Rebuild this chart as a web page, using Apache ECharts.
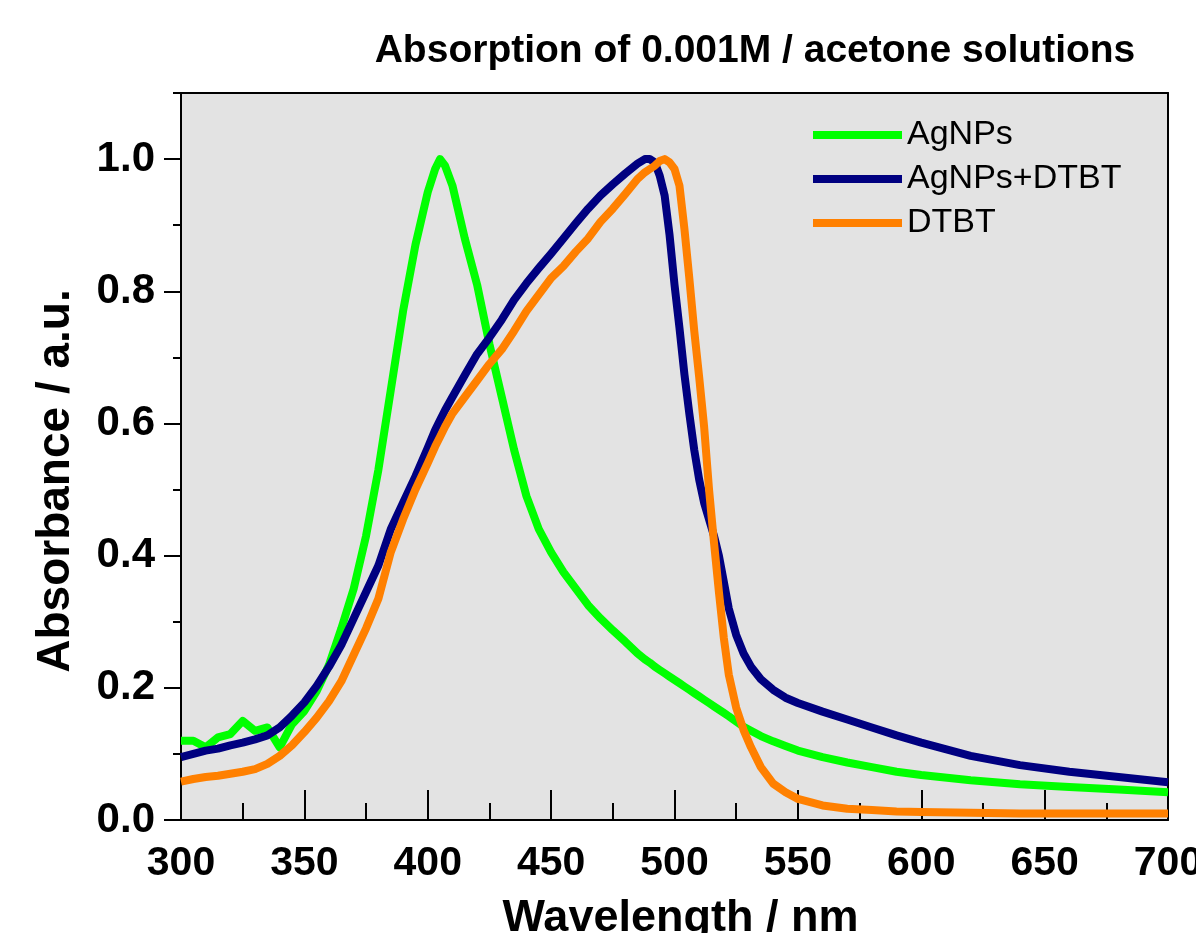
<!DOCTYPE html>
<html>
<head>
<meta charset="utf-8">
<script src="https://cdn.jsdelivr.net/npm/echarts@6/dist/echarts.min.js"></script>
<style>
html,body{margin:0;padding:0;background:#fff;}
#c{width:1196px;height:933px;}
</style>
</head>
<body>
<div id="c"></div>
<script>
// ---- data ----
var wavelengths = [300,305,310,315,320,325,330,335,340,345,350,355,360,365,370,375,380,385,390,395,400,403,405,407,410,415,420,425,430,435,440,445,450,455,460,465,470,475,480,485,488,490,492,494,496,498,500,502,504,506,508,510,512,514,516,518,520,522,525,528,531,535,540,545,550,560,570,580,590,600,620,640,660,680,700];

var agnps = [0.12,0.12,0.11,0.125,0.13,0.15,0.135,0.14,0.11,0.145,0.165,0.195,0.235,0.29,0.35,0.43,0.53,0.65,0.77,0.87,0.95,0.985,1.0,0.99,0.96,0.88,0.81,0.72,0.64,0.56,0.49,0.44,0.405,0.375,0.35,0.325,0.305,0.287,0.27,0.252,0.243,0.238,0.232,0.227,0.222,0.217,0.212,0.207,0.202,0.197,0.192,0.187,0.182,0.177,0.172,0.167,0.162,0.157,0.149,0.141,0.135,0.127,0.119,0.112,0.105,0.095,0.087,0.08,0.073,0.068,0.06,0.054,0.05,0.046,0.042];

var agnpsDtbt = [0.095,0.1,0.105,0.108,0.113,0.117,0.122,0.128,0.14,0.158,0.178,0.203,0.232,0.265,0.305,0.345,0.385,0.44,0.48,0.52,0.563,0.59,0.605,0.62,0.64,0.673,0.705,0.73,0.757,0.787,0.812,0.835,0.857,0.88,0.903,0.925,0.945,0.962,0.978,0.993,1.0,1.0,0.995,0.975,0.945,0.885,0.81,0.745,0.675,0.615,0.56,0.515,0.48,0.455,0.43,0.40,0.36,0.32,0.28,0.252,0.232,0.213,0.197,0.185,0.177,0.164,0.152,0.14,0.128,0.117,0.097,0.083,0.073,0.065,0.057];

var dtbt = [0.058,0.062,0.065,0.067,0.07,0.073,0.077,0.085,0.097,0.113,0.133,0.155,0.18,0.21,0.25,0.29,0.335,0.405,0.455,0.5,0.54,0.565,0.58,0.595,0.615,0.64,0.665,0.69,0.712,0.74,0.77,0.795,0.82,0.838,0.86,0.88,0.905,0.925,0.947,0.97,0.98,0.985,0.99,0.997,1.0,0.995,0.985,0.96,0.895,0.82,0.74,0.67,0.595,0.5,0.42,0.345,0.275,0.22,0.17,0.136,0.11,0.08,0.055,0.042,0.032,0.022,0.017,0.015,0.013,0.012,0.011,0.01,0.01,0.01,0.01];

var seriesNames = ['AgNPs','AgNPs+DTBT','DTBT'];
var xMajorTicks = [300,350,400,450,500,550,600,650,700];
var xMinorTicks = [325,375,425,475,525,575,625,675];
var yMajorTicks = [0,0.2,0.4,0.6,0.8,1.0];
var yMinorTicks = [0.1,0.3,0.5,0.7,0.9,1.1];

function pairs(xs, ys){ var out=[]; for(var i=0;i<xs.length;i++){ out.push([xs[i], ys[i]]); } return out; }

var FONT = '"Liberation Sans", Arial, sans-serif';
var chart = echarts.init(document.getElementById('c'), null, {renderer:'canvas'});
var X_MIN=300, X_MAX=700, Y_MIN=0, Y_MAX=1.1;
var lineStyleAxis = {color:'#000', width:2};

chart.setOption({
  animation:false,
  backgroundColor:'#fff',
  title:{
    text:'Absorption of 0.001M / acetone solutions',
    left:750, top:27, textAlign:'center',
    textStyle:{fontFamily:FONT, fontWeight:'bold', fontSize:39, color:'#000'}
  },
  legend:{
    orient:'vertical', left:813, top:118, padding:0,
    itemWidth:89, itemHeight:8, itemGap:10, icon:'rect',
    data:seriesNames,
    textStyle:{fontFamily:FONT, fontSize:34, color:'#000'}
  },
  grid:{left:181, right:28, top:93, bottom:113, show:true, backgroundColor:'#e3e3e3', borderWidth:0,
        containLabel:false, outerBoundsMode:'none'},
  xAxis:[
    {type:'value', min:X_MIN, max:X_MAX, interval:50, position:'bottom',
     axisLine:{show:true, onZero:false, lineStyle:lineStyleAxis},
     axisTick:{show:false}, splitLine:{show:false},
     axisLabel:{fontFamily:FONT, fontWeight:'bold', fontSize:41, color:'#000', margin:23, customValues:xMajorTicks},
     name:'Wavelength / nm', nameLocation:'middle', nameGap:76,
     nameTextStyle:{fontFamily:FONT, fontWeight:'bold', fontSize:45, color:'#000', padding:[0,0,0,12]}},
    {type:'value', min:X_MIN, max:X_MAX, position:'bottom', offset:15,
     axisLine:{show:false}, axisLabel:{show:false}, splitLine:{show:false},
     axisTick:{show:true, inside:true, length:30, lineStyle:lineStyleAxis, customValues:xMajorTicks}},
    {type:'value', min:X_MIN, max:X_MAX, position:'bottom', offset:10,
     axisLine:{show:false}, axisLabel:{show:false}, splitLine:{show:false},
     axisTick:{show:true, inside:true, length:17, lineStyle:lineStyleAxis, customValues:xMinorTicks}},
    {type:'value', min:X_MIN, max:X_MAX, position:'top',
     axisLine:{show:true, onZero:false, lineStyle:lineStyleAxis},
     axisTick:{show:false}, axisLabel:{show:false}, splitLine:{show:false}}
  ],
  yAxis:[
    {type:'value', min:Y_MIN, max:Y_MAX, position:'left',
     axisLine:{show:true, onZero:false, lineStyle:lineStyleAxis},
     axisTick:{show:true, length:17, lineStyle:lineStyleAxis, customValues:yMajorTicks},
     splitLine:{show:false},
     axisLabel:{fontFamily:FONT, fontWeight:'bold', fontSize:42, color:'#000', margin:26, customValues:yMajorTicks,
       formatter:function(v){return v.toFixed(1);}},
     name:'Absorbance / a.u.', nameLocation:'middle', nameGap:102,
     nameTextStyle:{fontFamily:FONT, fontWeight:'bold', fontSize:46, color:'#000', padding:[0,49,0,0]}},
    {type:'value', min:Y_MIN, max:Y_MAX, position:'left',
     axisLine:{show:false}, axisLabel:{show:false}, splitLine:{show:false},
     axisTick:{show:true, length:8, lineStyle:lineStyleAxis, customValues:yMinorTicks}},
    {type:'value', min:Y_MIN, max:Y_MAX, position:'right',
     axisLine:{show:true, onZero:false, lineStyle:lineStyleAxis},
     axisTick:{show:false}, axisLabel:{show:false}, splitLine:{show:false}}
  ],
  series:[
    {name:seriesNames[0], type:'line', data:pairs(wavelengths, agnps), showSymbol:false, symbol:'none',
     lineStyle:{color:'#00ff00', width:8, join:'round'}, itemStyle:{color:'#00ff00'}, z:2},
    {name:seriesNames[1], type:'line', data:pairs(wavelengths, agnpsDtbt), showSymbol:false, symbol:'none',
     lineStyle:{color:'#000080', width:8, join:'round'}, itemStyle:{color:'#000080'}, z:3},
    {name:seriesNames[2], type:'line', data:pairs(wavelengths, dtbt), showSymbol:false, symbol:'none',
     lineStyle:{color:'#ff8000', width:8, join:'round'}, itemStyle:{color:'#ff8000'}, z:4}
  ]
});
</script>
</body>
</html>
